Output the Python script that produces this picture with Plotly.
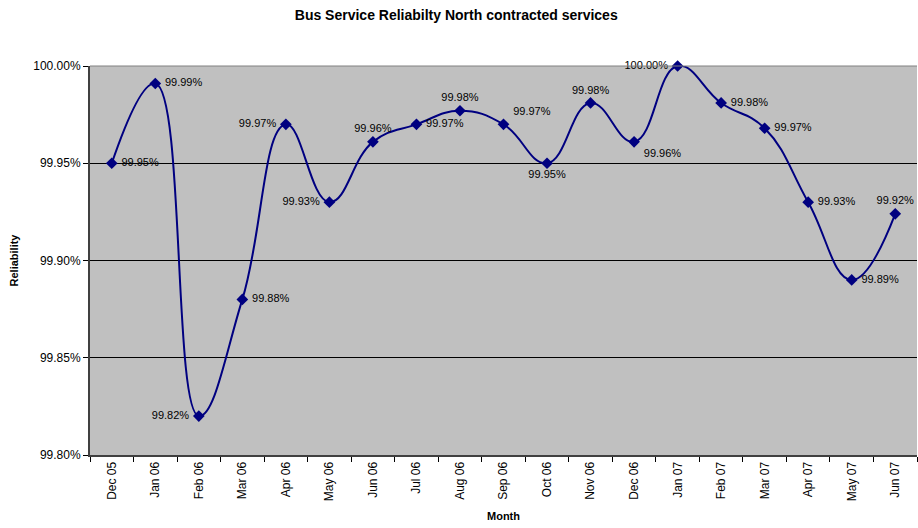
import plotly.graph_objects as go

months = ["Dec 05", "Jan 06", "Feb 06", "Mar 06", "Apr 06", "May 06", "Jun 06", "Jul 06",
          "Aug 06", "Sep 06", "Oct 06", "Nov 06", "Dec 06", "Jan 07", "Feb 07", "Mar 07",
          "Apr 07", "May 07", "Jun 07"]
reliability = [99.950, 99.991, 99.820, 99.880, 99.970, 99.930, 99.961, 99.970,
               99.977, 99.970, 99.950, 99.981, 99.961, 100.000, 99.981, 99.968,
               99.930, 99.890, 99.924]
label_pos = ["middle right", "middle right", "middle left", "middle right", "middle left",
             "middle left", "top center", "middle right", "top center", "top right",
             "bottom center", "top center", "bottom right", "middle left", "middle right",
             "middle right", "middle right", "middle right", "top center"]


def fmt(v, pos):
    s = "%.2f%%" % v
    if pos.endswith("right"):
        return " " + s
    if pos.endswith("left"):
        return s + " "
    return s


labels = [fmt(v, p) for v, p in zip(reliability, label_pos)]

fig = go.Figure(go.Scatter(
    x=months, y=reliability,
    mode="lines+markers+text",
    line=dict(color="#000080", width=2, shape="spline", smoothing=1.25),
    marker=dict(symbol="diamond", size=9, color="#000080"),
    text=labels, textposition=label_pos,
    textfont=dict(family="Liberation Sans, Arial, sans-serif", size=11, color="#000000"),
    cliponaxis=False,
    hoverinfo="x+y",
))

fig.add_shape(type="line", xref="paper", yref="paper", x0=0, x1=1, y0=1, y1=1,
              line=dict(color="#808080", width=1))

fig.update_layout(
    width=918, height=528,
    margin=dict(l=90, r=1, t=66, b=73),
    paper_bgcolor="#FFFFFF",
    plot_bgcolor="#C0C0C0",
    showlegend=False,
    font=dict(family="Liberation Sans, Arial, sans-serif", size=12, color="#000000"),
    title=dict(text="<b>Bus Service Reliabilty North contracted services</b>",
               x=0.497, xref="container", xanchor="center",
               y=0.972, yref="container", yanchor="middle",
               font=dict(size=14)),
    xaxis=dict(
        type="category", range=[-0.5, 18.5],
        tickson="boundaries", ticks="outside", ticklen=5, tickcolor="#000000",
        tickangle=-90, showgrid=False,
        showline=True, linecolor="#404040", linewidth=2,
        title=dict(text="<b>Month</b>", font=dict(size=11), standoff=12),
        tickfont=dict(size=12),
    ),
    yaxis=dict(
        range=[99.80, 100.00], dtick=0.05, tick0=99.80,
        tickformat=".2f", ticksuffix="%",
        ticks="outside", ticklen=5, tickcolor="#000000",
        showgrid=True, gridcolor="#000000", gridwidth=1,
        showline=True, linecolor="#404040", linewidth=2,
        zeroline=False,
        title=dict(text="<b>Reliability</b>", font=dict(size=11), standoff=12),
        tickfont=dict(size=12),
    ),
)

fig.write_html("out.html")
